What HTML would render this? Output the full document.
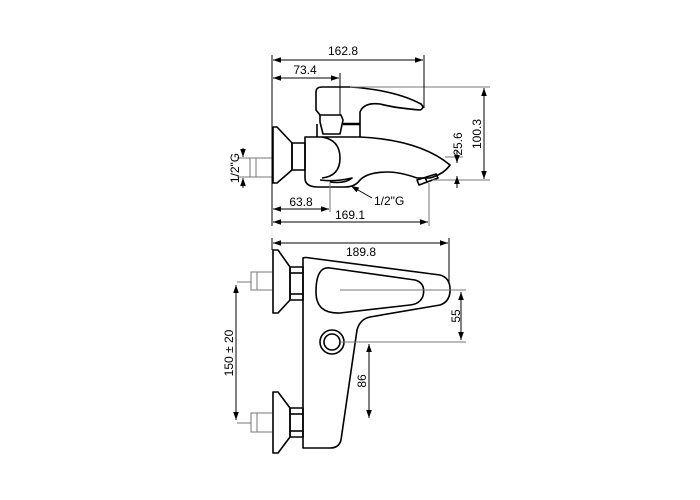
<!DOCTYPE html>
<html><head><meta charset="utf-8"><style>
html,body{margin:0;padding:0;background:#fff;}
svg{display:block;}
text{font-family:"Liberation Sans",Arial,sans-serif;font-size:12px;fill:#000;}
</style></head><body>
<svg width="700" height="500" viewBox="0 0 700 500" xmlns="http://www.w3.org/2000/svg">
<defs>
<marker id="a" viewBox="0 0 10 10" refX="10" refY="5" markerWidth="8" markerHeight="8" orient="auto-start-reverse" markerUnits="userSpaceOnUse"><path d="M0,1.5 L10,5 L0,8.5 Z" fill="#000"/></marker>
</defs>
<g fill="none" stroke="#000" stroke-width="1.6" stroke-linejoin="round">
<path d="M273,127 L277,127 L292,143 L292,170 L277,183 L273,183 Z"/>
<rect x="292" y="143" width="13" height="27"/>
<path d="M320,115 L316,110 L316,92 Q316,87 322,87 L350,87 Q395,90 421,104 Q425,108 420,110 Q395,108 380,104 Q364,102 360,112 L360,137"/>
<path d="M320,115 L341,115 L343,120 L340,134 L323,134 L320,122 Z"/>
<path d="M317,124 L317,137"/>
<path d="M305,137 L345,137 L360,137 Q420,140 450,165 Q444,174 430,178 L417,178 Q400,172 388,172 Q368,172 360,180 Q355,187 345,187 L318,187 Q305,187 305,178 Z"/>
<path d="M322,137 Q340,140 340,158 Q340,176 322,178"/>
<path d="M320,180 Q335,182 352,178 Q345,184 330,182"/>
<path d="M417,180 L436,174 L438,178 L419,185 Z"/>
<path d="M425,177 L427,182"/>
</g>
<g fill="none" stroke="#000" stroke-width="2.4">
<line x1="343" y1="124" x2="360" y2="124"/>
</g>
<g fill="none" stroke="#777" stroke-width="1">
<path d="M272,158 L250,158 L250,177 L272,177"/>
<line x1="256" y1="158" x2="256" y2="177"/>
<line x1="237" y1="158" x2="250" y2="158"/>
<line x1="237" y1="177" x2="250" y2="177"/>
<line x1="350" y1="87" x2="490" y2="87"/>
<line x1="432" y1="180" x2="490" y2="180"/>
<line x1="445" y1="157" x2="463" y2="157"/>
<line x1="429" y1="183" x2="429" y2="226"/>
<line x1="330" y1="182" x2="330" y2="212"/>
</g>
<g stroke="#000" stroke-width="1" fill="none">
<line x1="272" y1="55" x2="272" y2="226"/>
<line x1="424" y1="55" x2="424" y2="108"/>
<line x1="340" y1="73" x2="340" y2="115"/>
<line x1="273" y1="60" x2="423" y2="60" marker-start="url(#a)" marker-end="url(#a)"/>
<line x1="273" y1="78" x2="339" y2="78" marker-start="url(#a)" marker-end="url(#a)"/>
<line x1="484" y1="88" x2="484" y2="179" marker-start="url(#a)" marker-end="url(#a)"/>
<line x1="457" y1="150" x2="457" y2="163" marker-end="url(#a)"/>
<line x1="457" y1="188" x2="457" y2="176" marker-end="url(#a)"/>
<line x1="243" y1="148" x2="243" y2="157" marker-end="url(#a)"/>
<line x1="243" y1="188" x2="243" y2="178" marker-end="url(#a)"/>
<line x1="273" y1="209" x2="329" y2="209" marker-start="url(#a)" marker-end="url(#a)"/>
<line x1="273" y1="222" x2="428" y2="222" marker-start="url(#a)" marker-end="url(#a)"/>
<line x1="372" y1="198" x2="351" y2="186" marker-end="url(#a)"/>
</g>
<text x="343" y="55" text-anchor="middle">162.8</text>
<text x="305" y="74" text-anchor="middle">73.4</text>
<text x="301" y="206" text-anchor="middle">63.8</text>
<text x="350" y="219" text-anchor="middle">169.1</text>
<text x="374" y="205">1/2"G</text>
<text transform="translate(481,134) rotate(-90)" text-anchor="middle">100.3</text>
<text transform="translate(462,144) rotate(-90)" text-anchor="middle">25.6</text>
<text transform="translate(239,168) rotate(-90)" text-anchor="middle">1/2"G</text>

<g fill="none" stroke="#000" stroke-width="1.6" stroke-linejoin="round">
<path d="M273,250 L278,250 L290,267 L290,300 L278,313 L273,313 Z"/>
<rect x="290" y="267" width="13" height="33"/>
<line x1="290" y1="273" x2="303" y2="273"/><line x1="290" y1="294" x2="303" y2="294"/>
<path d="M273,392 L278,392 L290,408 L290,437 L278,453 L273,453 Z"/>
<rect x="290" y="408" width="13" height="29"/>
<line x1="290" y1="414" x2="303" y2="414"/><line x1="290" y1="431" x2="303" y2="431"/>
<path d="M303,258 Q305,257 310,258 L440,275 Q451,278 450,292 Q449,302 440,305 L370,317 Q360,319 357,330 L341,440 Q339,448 330,448 L303,448 Z"/>
<path d="M330,268 L415,280 Q426,283 423,296 Q420,304 410,305 L340,313 Q316,314 316,292 Q316,266 330,268 Z"/>
<circle cx="332" cy="342" r="12"/>
<circle cx="332" cy="342" r="8"/>
</g>
<g fill="none" stroke="#777" stroke-width="1">
<path d="M272,272 L251,272 L251,290 L272,290"/><line x1="257" y1="272" x2="257" y2="290"/>
<line x1="237" y1="282" x2="251" y2="282"/>
<path d="M272,413 L251,413 L251,432 L272,432"/><line x1="257" y1="413" x2="257" y2="432"/>
<line x1="237" y1="423" x2="251" y2="423"/>
<line x1="340" y1="290" x2="466" y2="290"/>
<line x1="340" y1="342" x2="466" y2="342"/>
</g>
<g stroke="#000" stroke-width="1" fill="none">
<line x1="272" y1="238" x2="272" y2="250"/>
<line x1="449" y1="238" x2="449" y2="282"/>
<line x1="273" y1="243" x2="448" y2="243" marker-start="url(#a)" marker-end="url(#a)"/>
<line x1="461" y1="292" x2="461" y2="340" marker-start="url(#a)" marker-end="url(#a)"/>
<line x1="369" y1="344" x2="369" y2="418" marker-start="url(#a)" marker-end="url(#a)"/>
<line x1="236" y1="285" x2="236" y2="420" marker-start="url(#a)" marker-end="url(#a)"/>
</g>
<text x="361" y="256" text-anchor="middle">189.8</text>
<text transform="translate(460,316) rotate(-90)" text-anchor="middle">55</text>
<text transform="translate(366,381) rotate(-90)" text-anchor="middle">86</text>
<text transform="translate(233,353) rotate(-90)" text-anchor="middle">150 ± 20</text>
</svg>
</body></html>
